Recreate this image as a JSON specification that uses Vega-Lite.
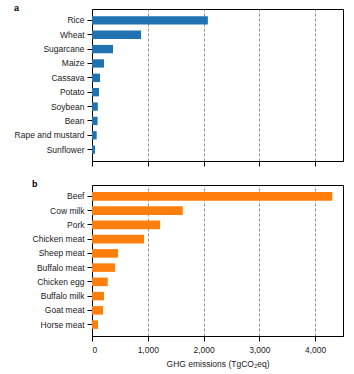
{
  "$schema": "https://vega.github.io/schema/vega-lite/v6.json",
  "padding": {"left": 13, "top": 3, "right": 10, "bottom": 4},
  "spacing": 12,
  "align": "each",
  "config": {
    "font": "Liberation Sans",
    "view": {"stroke": "#000", "strokeWidth": 1},
    "axis": {
      "labelFont": "Liberation Sans",
      "titleFont": "Liberation Sans",
      "labelFontSize": 8.5,
      "labelColor": "#222",
      "titleFontSize": 8.5,
      "titleFontWeight": "normal",
      "titleColor": "#222",
      "domainColor": "#000",
      "tickColor": "#000",
      "tickSize": 5,
      "tickWidth": 1
    },
    "title": {"font": "Liberation Sans", "fontSize": 9, "fontWeight": "bold", "anchor": "start", "frame": "bounds", "offset": -4, "color": "#000"}
  },
  "datasets": {
    "crops": [
      {"item": "Rice", "ghg": 2077},
      {"item": "Wheat", "ghg": 880},
      {"item": "Sugarcane", "ghg": 377},
      {"item": "Maize", "ghg": 215},
      {"item": "Cassava", "ghg": 144},
      {"item": "Potato", "ghg": 126},
      {"item": "Soybean", "ghg": 104},
      {"item": "Bean", "ghg": 100},
      {"item": "Rape and mustard", "ghg": 84},
      {"item": "Sunflower", "ghg": 54}
    ],
    "animals": [
      {"item": "Beef", "ghg": 4309},
      {"item": "Cow milk", "ghg": 1628},
      {"item": "Pork", "ghg": 1221},
      {"item": "Chicken meat", "ghg": 934},
      {"item": "Sheep meat", "ghg": 467},
      {"item": "Buffalo meat", "ghg": 413},
      {"item": "Chicken egg", "ghg": 282},
      {"item": "Buffalo milk", "ghg": 215},
      {"item": "Goat meat", "ghg": 197},
      {"item": "Horse meat", "ghg": 108}
    ]
  },
  "vconcat": [
    {
      "title": {"text": "a"},
      "width": 251,
      "height": 152,
      "view": {"stroke": "#000", "strokeWidth": 1},
      "data": {"name": "crops"},
      "mark": {"type": "bar", "color": "#2172b0"},
      "encoding": {
        "y": {"field": "item", "type": "nominal", "sort": null,
              "scale": {"paddingInner": 0.42, "paddingOuter": 0.5},
              "axis": {"title": null, "labelPadding": 3}},
        "x": {"field": "ghg", "type": "quantitative",
              "scale": {"domain": [0, 4500], "nice": false},
              "axis": {"title": null, "labels": false, "values": [0, 1000, 2000, 3000, 4000],
                       "grid": true, "gridColor": "#777", "gridDash": [3, 2], "gridWidth": 0.8}}
      }
    },
    {
      "title": {"text": "b"},
      "width": 251,
      "height": 151,
      "view": {"stroke": "#000", "strokeWidth": 1},
      "data": {"name": "animals"},
      "mark": {"type": "bar", "color": "#ff7f0e"},
      "encoding": {
        "y": {"field": "item", "type": "nominal", "sort": null,
              "scale": {"paddingInner": 0.4, "paddingOuter": 0.5},
              "axis": {"title": null, "labelPadding": 3}},
        "x": {"field": "ghg", "type": "quantitative",
              "scale": {"domain": [0, 4500], "nice": false},
              "axis": {"title": "GHG emissions (TgCO₂eq)", "format": ",.0f", "labelPadding": 4, "titlePadding": 6,
                       "values": [0, 1000, 2000, 3000, 4000],
                       "grid": true, "gridColor": "#777", "gridDash": [3, 2], "gridWidth": 0.8}}
      }
    }
  ]
}
